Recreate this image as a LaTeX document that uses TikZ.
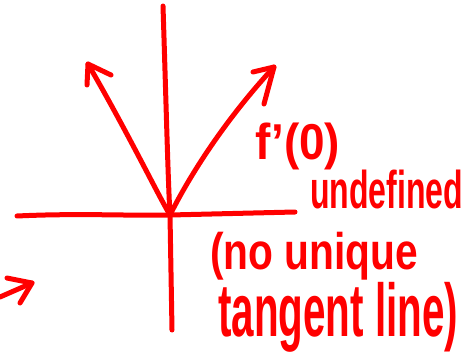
\documentclass[tikz,border=0pt]{standalone}
\usepackage{fontspec}
\setmainfont{Liberation Sans}
\usepackage{graphicx}
\begin{document}
\begin{tikzpicture}[x=1pt,y=-1pt,
  ink/.style={draw=red, line width=5pt, line cap=round, line join=round},
  hand/.style={text=red, inner sep=0pt, anchor=north west, font=\bfseries}]
\useasboundingbox (0,0) rectangle (475,359);
% axes
\coordinate (O) at (170,215);
\coordinate (ytop) at (163,6);
\coordinate (ybot) at (172,330);
\coordinate (xl) at (17,216);
\coordinate (xr) at (295,212);
\draw[ink] (ytop) .. controls (166,100) and (168,180) .. (O) -- (ybot);
\draw[ink] (xl) .. controls (80,213) and (130,216) .. (O) -- (xr);
% left branch
\coordinate (ltip) at (88,64);
\draw[ink] (O) .. controls (158,195) and (128,133) .. (ltip);
\draw[ink] (87,85) -- (ltip) -- (111,75);
% right branch
\coordinate (rtip) at (274,67);
\draw[ink] (O) .. controls (190,175) and (225,120) .. (rtip);
\draw[ink] (253,72) -- (rtip) -- (264,104);
% small arrow bottom left
\coordinate (stip) at (32,283);
\draw[ink] (0,297) -- (stip);
\draw[ink] (7,278) -- (stip) -- (20,303);
% text
\node[hand] (t1) at (255,123) {\resizebox*{85pt}{47pt}{f’(0)}};
\node[hand] (t2) at (310,170) {\resizebox*{153pt}{39pt}{undefined}};
\node[hand] (t3) at (210,232) {\resizebox*{208pt}{48pt}{(no unique}};
\node[hand] (t4) at (218,282) {\resizebox*{240pt}{70pt}{tangent line)}};
\end{tikzpicture}
\end{document}
